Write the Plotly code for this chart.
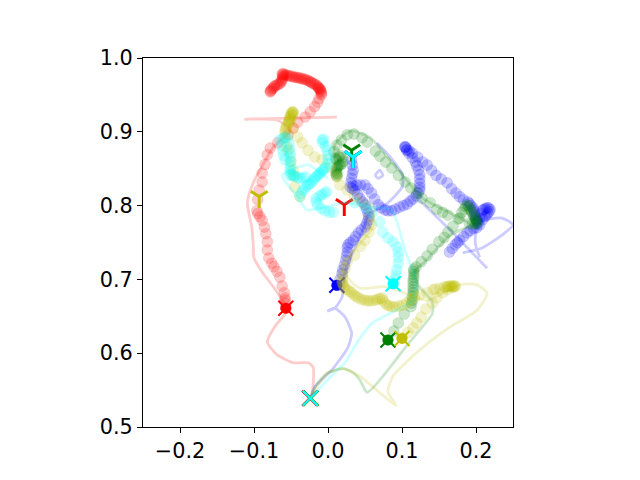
import plotly.graph_objects as go

x_ticks = [-0.2, -0.1, 0.0, 0.1, 0.2]
x_labels = ["−0.2", "−0.1", "0.0", "0.1", "0.2"]
y_ticks = [0.5, 0.6, 0.7, 0.8, 0.9, 1.0]
y_labels = ["0.5", "0.6", "0.7", "0.8", "0.9", "1.0"]

red_x = [-0.057,-0.058,-0.058,-0.058,-0.059,-0.062,-0.065,-0.069,-0.073,-0.076,-0.080,-0.082,-0.082,-0.084,-0.086,-0.089,-0.092,-0.095,-0.096,-0.095,-0.093,-0.089,-0.089,-0.085,-0.082,-0.078,-0.068,-0.054,-0.047,-0.041,-0.031,-0.024,-0.018,-0.014,-0.012,-0.009,-0.009,-0.009,-0.010,-0.010,-0.011,-0.012,-0.013,-0.014,-0.015,-0.017,-0.019,-0.021,-0.023,-0.024,-0.026,-0.028,-0.030,-0.032,-0.034,-0.036,-0.038,-0.040,-0.042,-0.044,-0.046,-0.048,-0.050,-0.052,-0.054,-0.056,-0.058,-0.060,-0.061,-0.062,-0.061,-0.061,-0.062,-0.062,-0.063,-0.064,-0.066,-0.068,-0.070,-0.072,-0.073,-0.074,-0.076,-0.077,-0.078,-0.078]
red_y = [0.661,0.668,0.672,0.675,0.682,0.691,0.703,0.711,0.717,0.722,0.729,0.740,0.751,0.762,0.771,0.780,0.785,0.789,0.793,0.808,0.821,0.832,0.844,0.856,0.869,0.878,0.885,0.896,0.905,0.913,0.920,0.927,0.934,0.940,0.945,0.950,0.952,0.954,0.955,0.957,0.958,0.959,0.960,0.961,0.963,0.964,0.965,0.966,0.967,0.968,0.969,0.970,0.971,0.971,0.972,0.972,0.973,0.973,0.974,0.974,0.974,0.975,0.975,0.976,0.976,0.977,0.977,0.978,0.979,0.978,0.976,0.974,0.972,0.970,0.968,0.966,0.965,0.964,0.963,0.962,0.961,0.959,0.958,0.956,0.955,0.954]
red_line_x = [-0.025,-0.022,-0.020,-0.027,-0.047,-0.069,-0.082,-0.072,-0.059,-0.057,-0.062,-0.074,-0.089,-0.100,-0.101,-0.103,-0.109,-0.101,-0.092,-0.074,-0.051,-0.069,-0.112,0.012]
red_line_y = [0.539,0.543,0.581,0.587,0.587,0.598,0.615,0.636,0.652,0.661,0.672,0.690,0.710,0.729,0.747,0.771,0.804,0.831,0.848,0.879,0.902,0.916,0.917,0.920]

blue_x = [0.012,0.016,0.019,0.020,0.022,0.024,0.025,0.026,0.026,0.027,0.030,0.034,0.037,0.041,0.045,0.050,0.052,0.054,0.055,0.054,0.052,0.050,0.047,0.043,0.040,0.036,0.033,0.030,0.031,0.032,0.033,0.034,0.033,0.032,0.034,0.039,0.044,0.050,0.054,0.059,0.063,0.068,0.072,0.077,0.081,0.086,0.091,0.097,0.102,0.107,0.111,0.115,0.119,0.122,0.124,0.124,0.124,0.124,0.124,0.122,0.120,0.118,0.114,0.109,0.106,0.104,0.104,0.105,0.107,0.110,0.114,0.121,0.128,0.134,0.140,0.146,0.153,0.161,0.167,0.173,0.178,0.183,0.189,0.191,0.193,0.196,0.197,0.198,0.198,0.199,0.200,0.201,0.202,0.203,0.205,0.207,0.209,0.211,0.213,0.215,0.217,0.219,0.218,0.216,0.214,0.212,0.209,0.205,0.201,0.197,0.192,0.188,0.183,0.178,0.175,0.172,0.168,0.164]
blue_y = [0.692,0.700,0.708,0.713,0.719,0.726,0.732,0.737,0.743,0.747,0.750,0.753,0.758,0.763,0.767,0.771,0.775,0.780,0.785,0.790,0.796,0.801,0.805,0.810,0.815,0.821,0.823,0.825,0.831,0.837,0.843,0.848,0.855,0.862,0.827,0.828,0.828,0.828,0.823,0.817,0.809,0.801,0.797,0.794,0.793,0.793,0.795,0.798,0.800,0.802,0.806,0.809,0.813,0.817,0.821,0.825,0.830,0.836,0.842,0.848,0.854,0.859,0.865,0.871,0.875,0.879,0.880,0.879,0.876,0.874,0.871,0.866,0.859,0.855,0.848,0.841,0.836,0.831,0.823,0.817,0.812,0.808,0.805,0.803,0.800,0.797,0.794,0.791,0.788,0.785,0.782,0.780,0.778,0.776,0.783,0.789,0.794,0.795,0.796,0.797,0.797,0.795,0.792,0.790,0.787,0.785,0.781,0.774,0.770,0.769,0.766,0.763,0.758,0.753,0.750,0.747,0.742,0.737]
blue_line_x = [-0.024,-0.018,0.005,0.027,0.032,0.023,0.009,-0.001,0.009,0.019,0.023,0.050,0.054,0.080,0.100,0.101,0.084,0.066,None,0.064,0.070,0.074,0.068,0.064,None,0.124,0.169,0.215,None,0.205,0.199,0.201,0.209,0.235,0.250,0.235,0.209,0.182]
blue_line_y = [0.539,0.554,0.577,0.608,0.627,0.649,0.661,0.657,0.661,0.676,0.710,0.774,0.787,0.803,0.825,0.841,0.866,0.885,None,0.841,0.848,0.841,0.837,0.841,None,0.807,0.763,0.715,None,0.730,0.749,0.771,0.780,0.783,0.774,0.760,0.743,0.736]

green_x = [0.081,0.089,0.095,0.103,0.112,0.113,0.114,0.114,0.115,0.115,0.115,0.115,0.115,0.116,0.116,0.116,0.116,0.119,0.126,0.134,0.141,0.150,0.157,0.162,0.169,0.176,0.181,0.184,0.186,0.188,0.190,0.192,0.194,0.196,0.197,0.199,0.200,0.201,0.201,0.199,0.195,0.191,0.178,0.162,0.155,0.147,0.138,0.127,0.120,0.112,0.104,0.095,0.086,0.078,0.070,0.064,0.053,0.046,0.035,0.026,0.018,0.012,0.008,0.010,0.012,0.015,0.017,0.019,0.020,0.019,0.017,0.015,0.013,0.012,0.011,0.011,0.011,0.012,0.013]
green_y = [0.618,0.630,0.641,0.653,0.663,0.668,0.672,0.677,0.682,0.686,0.690,0.695,0.699,0.703,0.707,0.711,0.714,0.717,0.724,0.732,0.741,0.751,0.757,0.764,0.772,0.782,0.791,0.795,0.799,0.801,0.799,0.795,0.792,0.788,0.786,0.782,0.780,0.778,0.776,0.775,0.775,0.776,0.783,0.787,0.791,0.795,0.804,0.810,0.817,0.824,0.832,0.841,0.851,0.859,0.867,0.874,0.886,0.892,0.897,0.896,0.889,0.882,0.873,0.864,0.862,0.866,0.868,0.865,0.860,0.857,0.855,0.855,0.853,0.851,0.848,0.845,0.842,0.840,0.843]
green_line_x = [-0.023,-0.016,-0.001,0.020,0.032,0.043,0.053,0.107,0.141,0.141,0.131,0.122,0.116,0.131,0.165,0.192,0.165,0.128,0.101,0.080,0.057,0.030,0.009,0.011]
green_line_y = [0.539,0.557,0.573,0.579,0.575,0.564,0.547,0.611,0.654,0.669,0.682,0.692,0.710,0.724,0.760,0.774,0.790,0.810,0.841,0.866,0.892,0.901,0.882,0.848]

olive_x = [0.100,0.108,0.115,0.120,0.126,0.132,0.141,0.147,0.155,0.162,0.168,0.171,0.172,0.170,0.168,0.166,0.164,0.162,0.160,0.157,0.151,0.145,0.142,0.134,0.124,0.117,0.111,0.106,0.101,0.096,0.091,0.087,0.083,0.080,0.077,0.074,0.073,0.070,0.067,0.064,0.060,0.056,0.053,0.049,0.045,0.041,0.038,0.035,0.032,0.029,0.026,0.023,0.021,0.020,0.019,0.019,0.020,0.023,0.026,0.036,0.044,0.050,0.055,0.059,0.056,0.053,0.045,0.036,0.026,0.016,0.012,0.003,-0.008,-0.018,-0.027,-0.035,-0.041,-0.047,-0.053,-0.053,-0.052,-0.051,-0.050,-0.049,-0.048,-0.047,-0.047,-0.048,-0.050,-0.052,-0.054,-0.056,-0.057,-0.058,-0.058,-0.058,-0.056,-0.054,-0.050,-0.047,-0.046,-0.045,-0.038]
olive_y = [0.621,0.628,0.634,0.641,0.649,0.660,0.668,0.675,0.682,0.686,0.689,0.690,0.691,0.691,0.691,0.691,0.691,0.690,0.690,0.690,0.688,0.687,0.686,0.682,0.679,0.676,0.672,0.668,0.665,0.664,0.663,0.663,0.664,0.665,0.668,0.672,0.675,0.674,0.673,0.672,0.671,0.671,0.671,0.672,0.673,0.675,0.677,0.679,0.682,0.684,0.686,0.688,0.691,0.694,0.696,0.700,0.706,0.715,0.724,0.733,0.745,0.753,0.764,0.774,0.785,0.798,0.805,0.812,0.821,0.828,0.839,0.852,0.862,0.866,0.875,0.885,0.893,0.905,0.913,0.916,0.919,0.921,0.924,0.926,0.927,0.927,0.925,0.922,0.918,0.914,0.911,0.908,0.905,0.902,0.898,0.892,0.880,0.875,0.860,0.848,0.840,0.825,0.812]
olive_line_x = [-0.024,-0.001,0.020,0.043,0.074,0.092,0.081,0.088,0.120,0.161,0.201,0.215,0.201,0.178,0.134,0.080,0.043,0.030,0.020,0.060,0.062]
olive_line_y = [0.539,0.573,0.579,0.569,0.543,0.529,0.548,0.569,0.601,0.633,0.658,0.681,0.693,0.693,0.672,0.690,0.688,0.698,0.718,0.771,0.800]

cyan_x = [0.088,0.090,0.092,0.093,0.095,0.095,0.095,0.093,0.088,0.081,0.074,0.070,0.059,0.050,0.036,0.007,0.002,-0.004,-0.009,-0.014,-0.016,-0.016,-0.011,-0.008,-0.004,-0.002,-0.038,-0.036,-0.034,-0.031,-0.028,-0.026,-0.024,-0.021,-0.019,-0.017,-0.015,-0.013,-0.011,-0.009,-0.007,-0.005,-0.003,0.000,0.000,0.000,-0.001,-0.003,-0.007,-0.008,-0.006,-0.030,-0.034,-0.038,-0.041,-0.044,-0.047,-0.049,-0.051,-0.051,-0.051,-0.051,-0.051,-0.051,-0.051,-0.052,-0.053,-0.055,-0.058,-0.061,-0.065,-0.063,-0.061,-0.060,-0.058]
cyan_y = [0.695,0.700,0.706,0.713,0.722,0.730,0.737,0.744,0.751,0.756,0.764,0.778,0.790,0.798,0.804,0.791,0.791,0.793,0.796,0.801,0.805,0.810,0.813,0.815,0.817,0.819,0.813,0.817,0.821,0.824,0.827,0.829,0.830,0.833,0.836,0.838,0.840,0.842,0.844,0.846,0.848,0.850,0.852,0.857,0.862,0.868,0.875,0.880,0.885,0.889,0.890,0.839,0.838,0.837,0.838,0.840,0.841,0.841,0.841,0.846,0.850,0.855,0.860,0.866,0.871,0.877,0.884,0.892,0.893,0.891,0.889,0.882,0.875,0.868,0.862]
cyan_line_x = [-0.024,0.012,0.023,0.039,0.060,0.080,0.115,0.118,0.104,0.086,0.057,0.023,-0.028,-0.042,-0.062,-0.027,-0.001]
cyan_line_y = [0.539,0.577,0.587,0.614,0.641,0.652,0.672,0.699,0.740,0.794,0.798,0.804,0.794,0.813,0.841,0.855,0.837]

end_points = {
    "red": (-0.057, 0.661), "blue": (0.012, 0.692), "green": (0.081, 0.618),
    "olive": (0.100, 0.620), "cyan": (0.088, 0.694),
}
y_points = {
    "red": (0.022, 0.801), "blue": (0.034, 0.866), "green": (0.032, 0.875),
    "olive": (-0.093, 0.812), "cyan": (0.034, 0.866),
}
start_points = {
    "red": (-0.025, 0.539), "blue": (-0.024, 0.539), "green": (-0.023, 0.539),
    "olive": (-0.024, 0.539), "cyan": (-0.024, 0.539),
}
colours = {"red": (255, 0, 0), "blue": (0, 0, 255), "green": (0, 128, 0), "olive": (191, 191, 0), "cyan": (0, 255, 255)}
series = {
    "red": (red_x, red_y, red_line_x, red_line_y),
    "blue": (blue_x, blue_y, blue_line_x, blue_line_y),
    "green": (green_x, green_y, green_line_x, green_line_y),
    "olive": (olive_x, olive_y, olive_line_x, olive_line_y),
    "cyan": (cyan_x, cyan_y, cyan_line_x, cyan_line_y),
}

fig = go.Figure()
for name, (cx, cy, lx, ly) in series.items():
    r, g, b = colours[name]
    solid = f"rgb({r},{g},{b})"
    faint = f"rgba({r},{g},{b},0.2)"
    ring = f"rgba({r},{g},{b},0.1)"
    fig.add_trace(go.Scatter(x=lx, y=ly, mode="lines", line=dict(color=faint, width=2.8, shape="spline", smoothing=0.6)))
    fig.add_trace(go.Scatter(x=cx, y=cy, mode="markers", marker=dict(symbol="circle", size=11, color=faint, line=dict(color=ring, width=1))))
    ex, ey = end_points[name]
    fig.add_trace(go.Scatter(x=[ex], y=[ey], mode="markers", marker=dict(symbol="circle", size=11, color=solid, line=dict(width=0))))
    sx, sy = start_points[name]
    fig.add_trace(go.Scatter(x=[ex, sx], y=[ey, sy], mode="markers", marker=dict(symbol="x-thin", size=15, color=solid, line=dict(color=solid, width=2))))
    px_, py_ = y_points[name]
    fig.add_trace(go.Scatter(x=[px_], y=[py_], mode="markers", marker=dict(symbol="y-down", size=14, color=solid, line=dict(color=solid, width=3))))

axis_font = dict(family="DejaVu Sans", size=20.8, color="black")
fig.update_layout(
    width=632, height=472, autosize=False, showlegend=False,
    margin=dict(l=135, r=127, t=50, b=53),
    paper_bgcolor="white", plot_bgcolor="white",
    xaxis=dict(range=[-0.25, 0.25], tickvals=x_ticks, ticktext=x_labels, showgrid=False, zeroline=False,
               showline=True, mirror=True, linecolor="black", linewidth=1, ticks="outside", ticklen=5, tickcolor="black", tickfont=axis_font),
    yaxis=dict(range=[0.5, 1.0], tickvals=y_ticks, ticktext=y_labels, showgrid=False, zeroline=False,
               showline=True, mirror=True, linecolor="black", linewidth=1, ticks="outside", ticklen=5, tickcolor="black", tickfont=axis_font),
)
fig.write_html("out.html")
